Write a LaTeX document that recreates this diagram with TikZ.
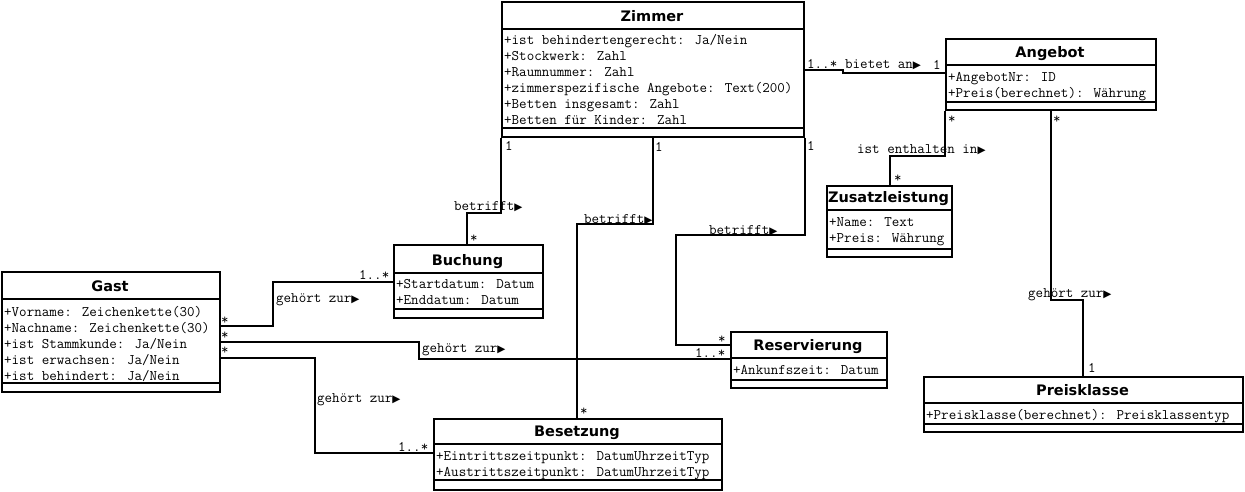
\documentclass[tikz,border=0pt]{standalone}
\usepackage{fontspec}
\setmainfont{DejaVu Sans}
\newfontfamily\umlsym{DejaVu Sans}
\newcommand\tri{{\umlsym\fontsize{10.5}{10}\selectfont ▶}}
\tikzset{
  classbox/.style={draw, line width=1.9pt, inner sep=0pt, anchor=north west},
  sepline/.style={line width=1.9pt},
  ctitle/.style={font=\fontsize{14.5}{14}\selectfont\bfseries, inner sep=0pt, anchor=base},
  attr/.style={font=\ttfamily\fontsize{14.6}{14}\selectfont, inner sep=0pt, anchor=base west},
  lbl/.style={font=\ttfamily\fontsize{14.6}{14}\selectfont, inner sep=0pt, anchor=base west},
  conn/.style={line width=1.9pt},
}
\begin{document}
\begin{tikzpicture}[x=1pt,y=-1pt]
\useasboundingbox (0,0) rectangle (1245,491);

% ---------- Zimmer ----------
\node[classbox, minimum width=302pt, minimum height=135pt] (zimmer) at (501,1) {};
\draw[sepline] (zimmer.west |- 0,29) -- (zimmer.east |- 0,29);
\draw[sepline] (zimmer.west |- 0,128) -- (zimmer.east |- 0,128);
\node[ctitle] (zimmer-t) at (652,21) {Zimmer};
\node[attr] (zimmer-a1) at (504,44) {+ist behindertengerecht: Ja/Nein};
\node[attr] (zimmer-a2) at (504,60) {+Stockwerk: Zahl};
\node[attr] (zimmer-a3) at (504,76) {+Raumnummer: Zahl};
\node[attr] (zimmer-a4) at (504,92) {+zimmerspezifische Angebote: Text(200)};
\node[attr] (zimmer-a5) at (504,108) {+Betten insgesamt: Zahl};
\node[attr] (zimmer-a6) at (504,124) {+Betten für Kinder: Zahl};

% ---------- Angebot ----------
\node[classbox, minimum width=210pt, minimum height=71pt] (angebot) at (945,38) {};
\draw[sepline] (angebot.west |- 0,65) -- (angebot.east |- 0,65);
\draw[sepline] (angebot.west |- 0,102) -- (angebot.east |- 0,102);
\node[ctitle] (angebot-t) at (1050,57) {Angebot};
\node[attr] (angebot-a1) at (948,81) {+AngebotNr: ID};
\node[attr] (angebot-a2) at (948,97) {+Preis(berechnet): Währung};

% ---------- Gast ----------
\node[classbox, minimum width=218pt, minimum height=120pt] (gast) at (1,271) {};
\draw[sepline] (gast.west |- 0,299) -- (gast.east |- 0,299);
\draw[sepline] (gast.west |- 0,383) -- (gast.east |- 0,383);
\node[ctitle] (gast-t) at (110,291) {Gast};
\node[attr] (gast-a1) at (4,316) {+Vorname: Zeichenkette(30)};
\node[attr] (gast-a2) at (4,332) {+Nachname: Zeichenkette(30)};
\node[attr] (gast-a3) at (4,348) {+ist Stammkunde: Ja/Nein};
\node[attr] (gast-a4) at (4,364) {+ist erwachsen: Ja/Nein};
\node[attr] (gast-a5) at (4,380) {+ist behindert: Ja/Nein};

% ---------- Buchung ----------
\node[classbox, minimum width=149pt, minimum height=73pt] (buchung) at (393,244) {};
\draw[sepline] (buchung.west |- 0,273) -- (buchung.east |- 0,273);
\draw[sepline] (buchung.west |- 0,309) -- (buchung.east |- 0,309);
\node[ctitle] (buchung-t) at (467.5,265) {Buchung};
\node[attr] (buchung-a1) at (396,288) {+Startdatum: Datum};
\node[attr] (buchung-a2) at (396,304) {+Enddatum: Datum};

% ---------- Reservierung ----------
\node[classbox, minimum width=156pt, minimum height=56pt] (reservierung) at (730,331) {};
\draw[sepline] (reservierung.west |- 0,358) -- (reservierung.east |- 0,358);
\draw[sepline] (reservierung.west |- 0,380) -- (reservierung.east |- 0,380);
\node[ctitle] (reservierung-t) at (808,350) {Reservierung};
\node[attr] (reservierung-a1) at (733,374) {+Ankunfszeit: Datum};

% ---------- Besetzung ----------
\node[classbox, minimum width=288pt, minimum height=71pt] (besetzung) at (433,418) {};
\draw[sepline] (besetzung.west |- 0,444) -- (besetzung.east |- 0,444);
\draw[sepline] (besetzung.west |- 0,480) -- (besetzung.east |- 0,480);
\node[ctitle] (besetzung-t) at (577,436) {Besetzung};
\node[attr] (besetzung-a1) at (436,460) {+Eintrittszeitpunkt: DatumUhrzeitTyp};
\node[attr] (besetzung-a2) at (436,476) {+Austrittszeitpunkt: DatumUhrzeitTyp};

% ---------- Preisklasse ----------
\node[classbox, minimum width=319pt, minimum height=55pt] (preisklasse) at (923,376) {};
\draw[sepline] (preisklasse.west |- 0,403) -- (preisklasse.east |- 0,403);
\draw[sepline] (preisklasse.west |- 0,424) -- (preisklasse.east |- 0,424);
\node[ctitle] (preisklasse-t) at (1082.5,395) {Preisklasse};
\node[attr] (preisklasse-a1) at (926,419) {+Preisklasse(berechnet): Preisklassentyp};

% ---------- Zusatzleistung ----------
\node[classbox, minimum width=125pt, minimum height=71pt] (zusatz) at (826,185) {};
\draw[sepline] (zusatz.west |- 0,210) -- (zusatz.east |- 0,210);
\draw[sepline] (zusatz.west |- 0,249) -- (zusatz.east |- 0,249);
\node[ctitle] (zusatz-t) at (888.5,202) {Zusatzleistung};
\node[attr] (zusatz-a1) at (829,226) {+Name: Text};
\node[attr] (zusatz-a2) at (829,242) {+Preis: Währung};

% ---------- Connectors ----------
\draw[conn] (zimmer.east |- 0,70) -| (843,73) -- (angebot.west |- 0,73);
\draw[conn] (zimmer.south west) |- (467,213) -- (467,213 |- buchung.north);
\draw[conn] (zimmer.south) |- (577,224) -- (577,224 |- besetzung.north);
\draw[conn] (zimmer.south east) |- (676,235) |- (reservierung.west |- 0,345);
\draw[conn] (gast.east |- 0,326) -| (273,282) -- (buchung.west |- 0,282);
\draw[conn] (gast.east |- 0,342) -| (419,359) -- (reservierung.west |- 0,359);
\draw[conn] (gast.east |- 0,358) -| (315,453) -- (besetzung.west |- 0,453);
\draw[conn] (angebot.south west) |- (890,156) -- (890,156 |- zusatz.north);
\draw[conn] (angebot.south) |- (1083,300) -- (1083,300 |- preisklasse.north);

% ---------- Labels ----------
\node[lbl] (l-za1) at (807,68) {1..*};
\node[lbl] (l-za2) at (845,68) {bietet an\tri};
\node[lbl] (l-za3) at (933,69) {1};

\node[lbl] (l-zb1) at (505,150) {1};
\node[lbl] (l-zb2) at (454,210) {betrifft\tri};
\node[lbl] (l-zb3) at (470,242) {*};

\node[lbl] (l-zs1) at (655,151) {1};
\node[lbl] (l-zs2) at (584,223) {betrifft\tri};
\node[lbl] (l-zs3) at (580,415) {*};

\node[lbl] (l-zr1) at (807,150) {1};
\node[lbl] (l-zr2) at (709,234) {betrifft\tri};
\node[lbl] (l-zr3) at (718,343) {*};

\node[lbl] (l-gb1) at (221,324) {*};
\node[lbl] (l-gb2) at (276,302) {gehört zur\tri};
\node[lbl] (l-gb3) at (359,279) {1..*};

\node[lbl] (l-gr1) at (221,339) {*};
\node[lbl] (l-gr2) at (422,352) {gehört zur\tri};
\node[lbl] (l-gr3) at (695,357) {1..*};

\node[lbl] (l-gs1) at (221,354) {*};
\node[lbl] (l-gs2) at (317,402) {gehört zur\tri};
\node[lbl] (l-gs3) at (398,451) {1..*};

\node[lbl] (l-az1) at (948,123) {*};
\node[lbl] (l-az2) at (857,153) {ist enthalten in\tri};
\node[lbl] (l-az3) at (894,182) {*};

\node[lbl] (l-ap1) at (1053,123) {*};
\node[lbl] (l-ap2) at (1028,297) {gehört zur\tri};
\node[lbl] (l-ap3) at (1088,372) {1};
\end{tikzpicture}
\end{document}
